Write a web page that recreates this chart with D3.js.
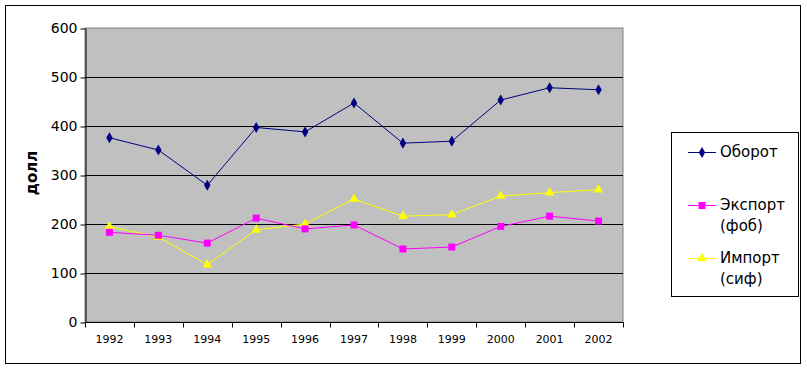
<!DOCTYPE html>
<html>
<head>
<meta charset="utf-8">
<script src="https://cdn.jsdelivr.net/npm/d3@7"></script>
<style>
  body { margin: 0; background: #fff; }
  text { font-family: "DejaVu Sans", Verdana, sans-serif; }
</style>
</head>
<body>
<div id="chart"></div>
<script>
// Data
var years = ["1992","1993","1994","1995","1996","1997","1998","1999","2000","2001","2002"];
var oborot = [376, 351, 279, 397, 388, 447, 365, 369, 453, 478, 474];
var eksport = [183, 177, 161, 212, 190, 198, 149, 153, 195, 216, 206];
var import_ = [195, 173, 117, 188, 200, 251, 216, 219, 257, 264, 270];
var yTicks = [0, 100, 200, 300, 400, 500, 600];
var seriesNames = ["Оборот", "Экспорт (фоб)", "Импорт (сиф)"];

var W = 807, H = 369;
var plot = {left: 85, right: 623, top: 28, bottom: 322};

var svg = d3.select("#chart").append("svg")
    .attr("width", W)
    .attr("height", H);

// outer frame
svg.append("rect")
    .attr("x", 5.5).attr("y", 5.5)
    .attr("width", 795).attr("height", 358)
    .attr("fill", "#fff")
    .attr("stroke", "#000")
    .attr("stroke-width", 1);

var x = d3.scaleBand()
    .domain(years)
    .range([plot.left, plot.right]);
var y = d3.scaleLinear()
    .domain([0, 600])
    .range([plot.bottom, plot.top]);

// plot area
svg.append("rect")
    .attr("x", plot.left).attr("y", plot.top)
    .attr("width", plot.right - plot.left).attr("height", plot.bottom - plot.top)
    .attr("fill", "#c0c0c0")
    .attr("stroke", "#808080")
    .attr("stroke-width", 1);

// gridlines
svg.append("g").selectAll("line")
    .data(yTicks.filter(function(d){ return d > 0 && d < 600; }))
    .enter().append("line")
      .attr("x1", plot.left).attr("x2", plot.right)
      .attr("y1", function(d){ return Math.round(y(d)) + 0.5; })
      .attr("y2", function(d){ return Math.round(y(d)) + 0.5; })
      .attr("stroke", "#000");

// y axis
var yAxis = svg.append("g")
    .attr("transform", "translate(" + (plot.left + 0.5) + ",0.5)")
    .call(d3.axisLeft(y).tickValues(yTicks).tickSize(5).tickSizeOuter(0).tickPadding(3));
yAxis.selectAll("text").style("font-size", "14px").attr("fill", "#000");
yAxis.select(".domain").attr("stroke", "#000");

// x axis: ticks on category boundaries
var xAxisG = svg.append("g")
    .attr("transform", "translate(0," + (plot.bottom + 0.5) + ")");
xAxisG.append("line")
    .attr("x1", plot.left).attr("x2", plot.right + 1)
    .attr("stroke", "#000");
var bounds = years.map(function(d){ return x(d); }).concat([plot.right]);
xAxisG.selectAll(".tk")
    .data(bounds)
    .enter().append("line")
      .attr("class", "tk")
      .attr("x1", function(d){ return Math.round(d) + 0.5; })
      .attr("x2", function(d){ return Math.round(d) + 0.5; })
      .attr("y1", 0).attr("y2", 5)
      .attr("stroke", "#000");
xAxisG.selectAll(".lbl")
    .data(years)
    .enter().append("text")
      .attr("class", "lbl")
      .attr("x", function(d){ return x(d) + x.bandwidth() / 2; })
      .attr("y", 20)
      .attr("text-anchor", "middle")
      .style("font-size", "11px")
      .text(function(d){ return d; });

// y title
svg.append("text")
    .attr("transform", "translate(37,173) rotate(-90)")
    .attr("text-anchor", "middle")
    .style("font-size", "15px")
    .style("font-weight", "bold")
    .text("долл");

var cx = function(d, i){ return x(years[i]) + x.bandwidth() / 2; };

var series = [
  {name: seriesNames[0], values: oborot, color: "#000080", symbol: d3.symbolDiamond, size: 36},
  {name: seriesNames[1], values: eksport, color: "#ff00ff", symbol: d3.symbolSquare, size: 49},
  {name: seriesNames[2], values: import_, color: "#ffff00", symbol: d3.symbolTriangle, size: 40}
];

var line = d3.line()
    .x(cx)
    .y(function(d){ return y(d); });

// draw in reverse so Оборот is on top
series.slice().reverse().forEach(function(s){
  svg.append("path")
      .datum(s.values)
      .attr("d", line)
      .attr("fill", "none")
      .attr("stroke", s.color)
      .attr("stroke-width", 1);
  svg.append("g").selectAll("path")
      .data(s.values)
      .enter().append("path")
        .attr("d", d3.symbol().type(s.symbol).size(s.size))
        .attr("transform", function(d, i){ return "translate(" + cx(d, i) + "," + y(d) + ")"; })
        .attr("fill", s.color);
});

// legend
var leg = svg.append("g");
leg.append("rect")
    .attr("x", 671.5).attr("y", 132.5)
    .attr("width", 127).attr("height", 164)
    .attr("fill", "#fff")
    .attr("stroke", "#000");
var legY = [152, 205, 258];
series.forEach(function(s, i){
  var g = leg.append("g").attr("transform", "translate(0," + legY[i] + ")");
  g.append("line")
      .attr("x1", 688).attr("x2", 716)
      .attr("y1", 0.5).attr("y2", 0.5)
      .attr("stroke", s.color);
  g.append("path")
      .attr("d", d3.symbol().type(s.symbol).size(s.size))
      .attr("transform", "translate(702,0.5)")
      .attr("fill", s.color);
  var parts = s.name.split(" ");
  var t = g.append("text")
      .attr("x", 720)
      .attr("y", 5)
      .style("font-size", "15px");
  parts.forEach(function(p, j){
    t.append("tspan")
        .attr("x", 720)
        .attr("dy", j === 0 ? 0 : 20.5)
        .text(p);
  });
});
</script>
</body>
</html>
